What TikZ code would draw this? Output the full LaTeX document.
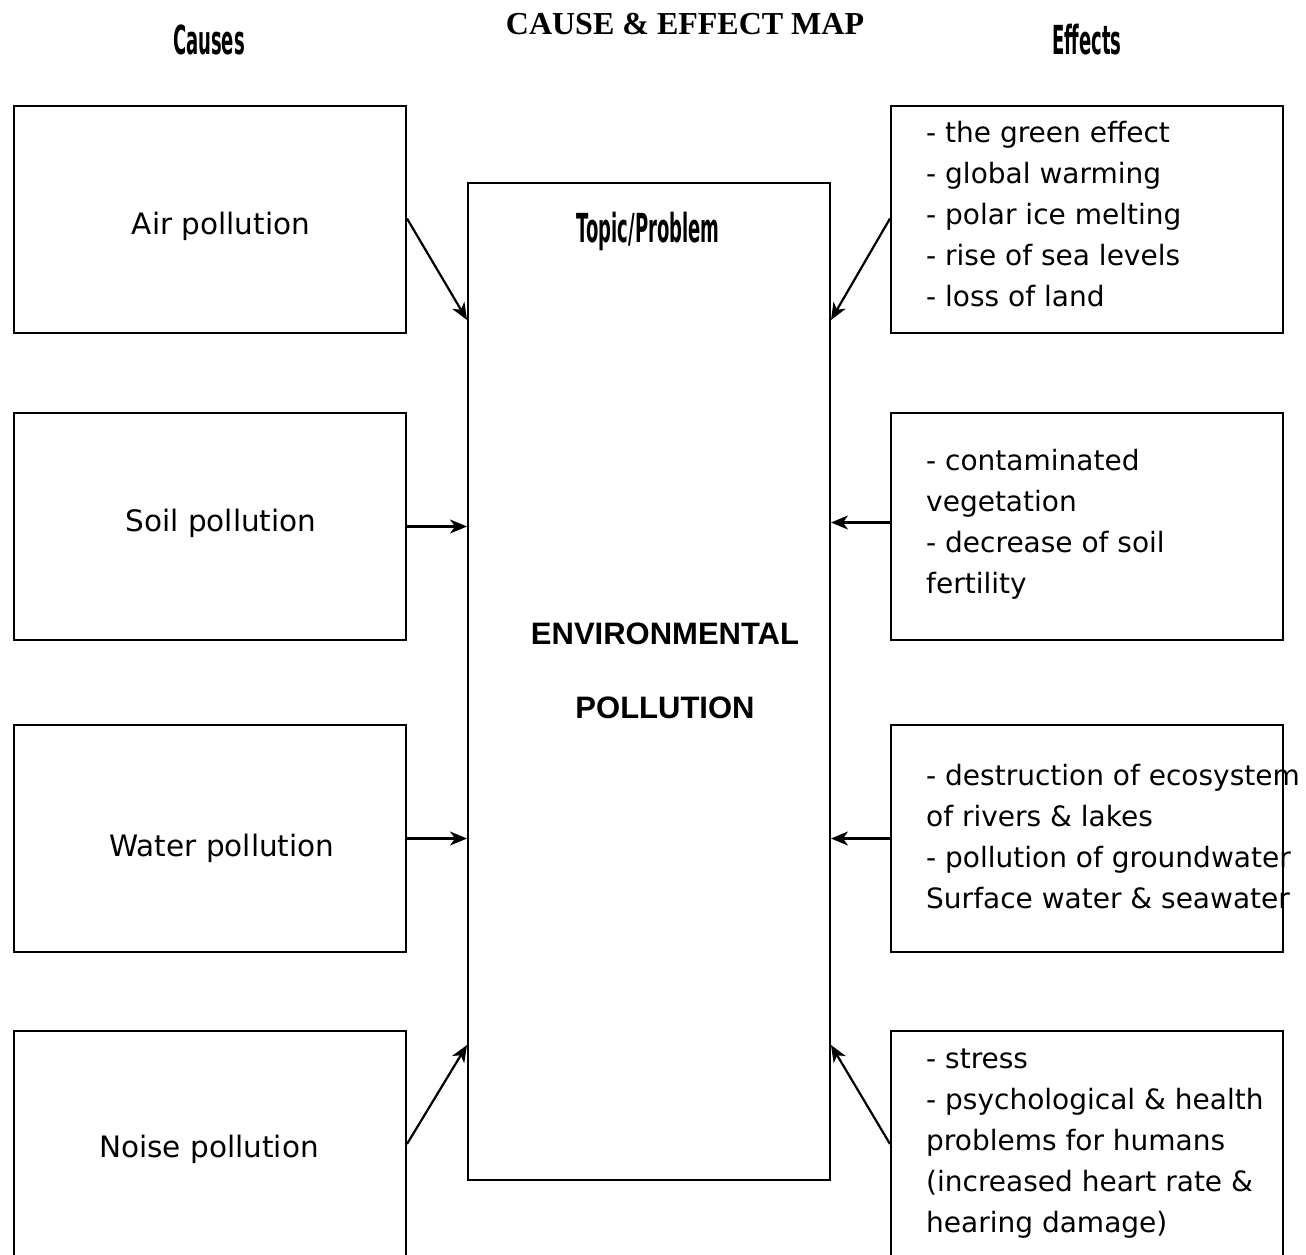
\documentclass[tikz,border=0pt]{standalone}
\usepackage{fontspec}
\setmainfont{DejaVu Sans}
\newfontfamily\titlefont{Liberation Serif}
\newfontfamily\topicfont{Liberation Sans}
\usetikzlibrary{arrows.meta,positioning}
\begin{document}
\begin{tikzpicture}[x=1pt,y=-1pt,
  box/.style={draw,line width=2pt,minimum width=392pt,minimum height=227pt,anchor=north west,inner sep=0pt},
  hand/.style={font=\fontsize{29.5}{41}\selectfont,inner sep=0pt},
  list/.style={font=\fontsize{28}{41}\selectfont,inner sep=0pt,align=left,anchor=north west},
  head/.style={inner sep=0pt,font=\bfseries\fontsize{40}{44}\selectfont},
  link/.style={line width=2.2pt,-{Stealth[length=17pt,width=14pt,inset=5pt]}}]
\useasboundingbox (0,0) rectangle (1306,1255);
\clip (0,0) rectangle (1306,1255);

% headings
\node[inner sep=0pt,font=\titlefont\bfseries\fontsize{32}{36}\selectfont] (title) at (685,24) {CAUSE \& EFFECT MAP};
\node[head] (causes) at (209,40) {\scalebox{0.45}[1]{Causes}};
\node[head] (effects) at (1087,40) {\scalebox{0.45}[1]{Effects}};

% central topic box
\node[draw,line width=2pt,minimum width=362pt,minimum height=997pt,anchor=north west,inner sep=0pt] (topic) at (467,182) {};
\node[head] (topiclabel) at (648,231) {\scalebox{0.45}[1]{Topic/Problem}};
\node[inner sep=0pt,font=\topicfont\bfseries\fontsize{31}{36}\selectfont] (env1) at (665,634) {ENVIRONMENTAL};
\node[inner sep=0pt,font=\topicfont\bfseries\fontsize{31}{36}\selectfont] (env2) at (665,708) {POLLUTION};

% causes
\node[box] (c1) at (13,105) {};
\node[box] (c2) at (13,412) {};
\node[box] (c3) at (13,724) {};
\node[box,minimum height=260pt] (c4) at (13,1030) {};
\node[hand] (c1t) at (221,226) {Air pollution};
\node[hand] (c2t) at (221,523) {Soil pollution};
\node[hand] (c3t) at (222,848) {Water pollution};
\node[hand] (c4t) at (209,1149) {Noise pollution};

% effects
\node[box] (e1) at (890,105) {};
\node[box] (e2) at (890,412) {};
\node[box] (e3) at (890,724) {};
\node[box,minimum height=260pt] (e4) at (890,1030) {};
\node[list] (e1t) at (926,121) {- the green effect\\- global warming\\- polar ice melting\\- rise of sea levels\\- loss of land};
\node[list] (e2t) at (926,449) {- contaminated\\vegetation\\- decrease of soil\\fertility};
\node[list] (e3t) at (926,764) {- destruction of ecosystem\\of rivers \& lakes\\- pollution of groundwater\\Surface water \& seawater};
\node[list] (e4t) at (926,1049) {- stress\\- psychological \& health\\problems for humans\\(increased heart rate \&\\hearing damage)};

% connectors
\coordinate (tin1) at ([yshift=-138pt]topic.north west);
\coordinate (tin4) at ([yshift=136pt]topic.south west);
\coordinate (tout1) at ([yshift=-138pt]topic.north east);
\coordinate (tout4) at ([yshift=136pt]topic.south east);
\draw[link] ([yshift=1pt]c1.east) -- (tin1);
\draw[link] (c2.east) -- (c2.east -| topic.west);
\draw[link] (c3.east) -- (c3.east -| topic.west);
\draw[link] ([yshift=17pt]c4.east) -- (tin4);
\draw[link] ([yshift=1pt]e1.west) -- (tout1);
\draw[link] ([yshift=4pt]e2.west) -- ([yshift=4pt]e2.west -| topic.east);
\draw[link] (e3.west) -- (e3.west -| topic.east);
\draw[link] ([yshift=17pt]e4.west) -- (tout4);
\end{tikzpicture}
\end{document}
